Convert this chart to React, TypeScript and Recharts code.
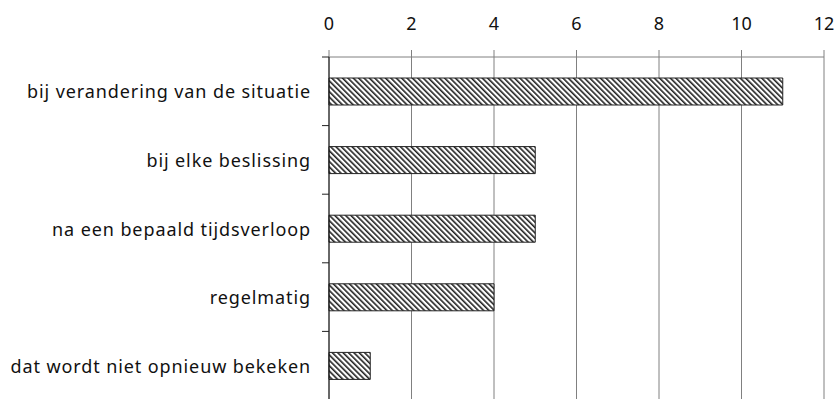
import React from 'react';
import { BarChart, Bar, XAxis, YAxis, CartesianGrid } from 'recharts';

const categories = [
  'bij verandering van de situatie',
  'bij elke beslissing',
  'na een bepaald tijdsverloop',
  'regelmatig',
  'dat wordt niet opnieuw bekeken',
];
const counts = [11, 5, 5, 4, 1];
const xTicks = [0, 2, 4, 6, 8, 10, 12];

const data = categories.map((name, i) => ({ name, count: counts[i] }));

const FONT = '"Noto Sans", sans-serif';
const TOP = 57;
const HEIGHT = 400;
const AXIS_X = 329;
const BAND = (HEIGHT - TOP) / categories.length;

const CategoryTick = (props: any) => {
  const { y, payload } = props;
  return (
    <g>
      <line x1={AXIS_X - 7} x2={AXIS_X} y1={y - BAND / 2} y2={y - BAND / 2} stroke="#222" />
      <text
        x={AXIS_X - 18}
        y={y}
        textAnchor="end"
        dominantBaseline="central"
        fontFamily={FONT}
        fontSize={18}
        letterSpacing={0.9}
        fill="#111"
      >
        {payload.value}
      </text>
    </g>
  );
};

const App: React.FC = () => {
  return (
    <div style={{ position: 'absolute', left: 0, top: 0, width: 838, height: 399, overflow: 'hidden', background: '#fff' }}>
      <BarChart
        width={838}
        height={HEIGHT}
        data={data}
        layout="vertical"
        margin={{ top: 0, right: 14, left: 0, bottom: 0 }}
        barCategoryGap={0}
      >
        <defs>
          <pattern id="hatch" width="3.8" height="3.8" patternUnits="userSpaceOnUse" patternTransform="rotate(-45)">
            <rect width="3.8" height="3.8" fill="#fff" />
            <line x1="0.8" y1="0" x2="0.8" y2="3.8" stroke="#222" strokeWidth={1.6} />
          </pattern>
        </defs>
        <CartesianGrid horizontal={false} stroke="#808080" />
        <XAxis
          type="number"
          orientation="top"
          domain={[0, 12]}
          ticks={xTicks}
          height={TOP}
          stroke="#808080"
          tickSize={7}
          tickMargin={20}
          tick={{ fontFamily: FONT, fontSize: 18, fill: '#111' }}
        />
        <YAxis
          type="category"
          dataKey="name"
          width={AXIS_X}
          stroke="#111"
          tickLine={false}
          tick={<CategoryTick />}
          interval={0}
        />
        <Bar dataKey="count" barSize={27} fill="url(#hatch)" stroke="#222" strokeWidth={1} isAnimationActive={false} />
      </BarChart>
    </div>
  );
};

export default App;
